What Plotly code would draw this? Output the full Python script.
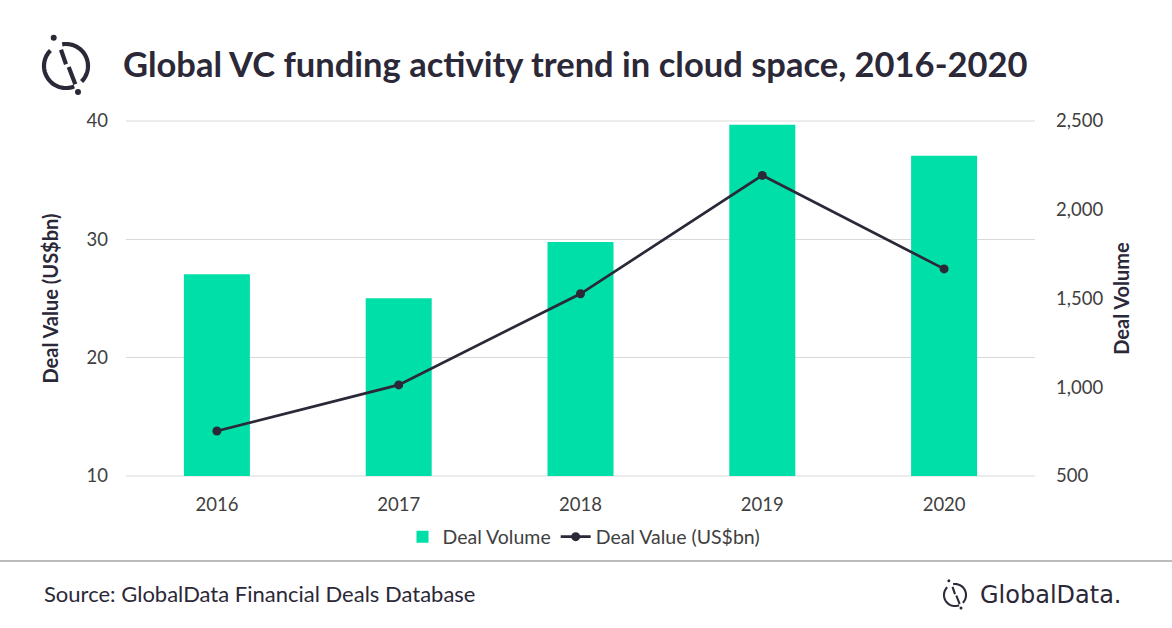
import numpy as np
import plotly.graph_objects as go

# data
years = ["2016", "2017", "2018", "2019", "2020"]
deal_volume = [1637, 1502, 1818, 2479, 2304]
deal_value = [13.8, 17.7, 25.4, 35.4, 27.5]

volume_ticks = [500, 1000, 1500, 2000, 2500]
value_ticks = [10, 20, 30, 40]

W, H = 1172, 628
L, R, T, B = 126, 137, 121, 152
PW, PH = W - L - R, H - T - B

DARK = "#2b2838"
GREEN = "#00dfa8"
GRID = "#d9d9d9"
FONT = "Lato"


def px(x):
    return (x - L) / PW


def py(y):
    return (H - B - y) / PH


def logo_shapes(cx, cy, s):
    # circle mark with two gaps, a broken slash and two dots
    out = []
    r = 22 * s
    for a0, a1 in [(135, 292), (-45, 100)]:
        ang = np.radians(np.linspace(a0, a1, 40))
        pts = [(px(cx + r * np.cos(a)), py(cy - r * np.sin(a))) for a in ang]
        path = "M " + " L ".join(f"{x:.5f},{y:.5f}" for x, y in pts)
        out.append(dict(type="path", xref="paper", yref="paper", path=path,
                        line=dict(color=DARK, width=4.2 * s)))
    for (x0, y0), (x1, y1) in [((-5, -16.3), (0, -1.7)), ((2.7, 1), (9.3, 18.3))]:
        out.append(dict(type="line", xref="paper", yref="paper",
                        x0=px(cx + x0 * s), y0=py(cy + y0 * s),
                        x1=px(cx + x1 * s), y1=py(cy + y1 * s),
                        line=dict(color=DARK, width=4.2 * s)))
    d = 3 * s
    for dx, dy in [(-12.3, -28.3), (12, 26)]:
        out.append(dict(type="circle", xref="paper", yref="paper",
                        x0=px(cx + dx * s - d), x1=px(cx + dx * s + d),
                        y0=py(cy + dy * s + d), y1=py(cy + dy * s - d),
                        fillcolor=DARK, line=dict(width=0)))
    return out


fig = go.Figure()
fig.add_trace(go.Bar(x=years, y=deal_volume, name="Deal Volume",
                     marker=dict(color=GREEN, line=dict(width=0)),
                     yaxis="y"))
fig.add_trace(go.Scatter(x=years, y=deal_value, name="Deal Value (US$bn)",
                         mode="lines+markers", yaxis="y2",
                         line=dict(color=DARK, width=2.7),
                         marker=dict(color=DARK, size=9)))

shapes = logo_shapes(66, 66, 1.0) + logo_shapes(955, 595, 0.5)
# grid lines at the top and bottom edges (plotly skips those)
for edge in (0, 1):
    shapes.append(dict(type="line", xref="paper", yref="paper", layer="below",
                       x0=0, x1=1, y0=edge, y1=edge,
                       line=dict(color=GRID, width=1)))
shapes.append(dict(type="line", xref="paper", yref="paper",
                   x0=px(0), x1=px(W), y0=py(561), y1=py(561),
                   line=dict(color="#a6a6a6", width=1.5)))

fig.update_layout(
    width=W, height=H,
    margin=dict(l=L, r=R, t=T, b=B),
    paper_bgcolor="white", plot_bgcolor="white",
    font=dict(family=FONT, color="#404040", size=18.5),
    bargap=0.637,
    title=dict(text="<b>Global VC funding activity trend in cloud space, 2016-2020</b>",
               x=123 / W, xanchor="left", y=1 - 65 / H, yanchor="middle",
               yref="container", font=dict(family=FONT, size=34.5, color=DARK)),
    xaxis=dict(type="category", showgrid=False, ticks="",
               ticklabelstandoff=15, tickfont=dict(size=18.5, color="#404040")),
    yaxis=dict(side="right", range=[500, 2500], tickvals=volume_ticks,
               tickformat=",", showgrid=False, zeroline=False,
               ticklabelstandoff=20,
               title=dict(text="<b>Deal Volume</b>", standoff=12,
                          font=dict(size=20, color=DARK))),
    yaxis2=dict(side="left", overlaying="y", range=[10, 40], tickvals=value_ticks,
                showgrid=True, gridcolor=GRID, gridwidth=1,
                zeroline=False, ticklabelstandoff=17,
                title=dict(text="<b>Deal Value (US$bn)</b>", standoff=22,
                           font=dict(size=20, color=DARK))),
    legend=dict(orientation="h", x=px(584), xanchor="center", y=py(537),
                yanchor="middle", font=dict(size=19.5, color="#404040"),
                traceorder="normal"),
    shapes=shapes,
    annotations=[
        dict(text="Source: GlobalData Financial Deals Database", xref="paper",
             yref="paper", x=px(42), y=py(593), xanchor="left", yanchor="middle",
             showarrow=False, font=dict(family=FONT, size=22, color=DARK)),
        dict(text="GlobalData.", xref="paper", yref="paper", x=px(978),
             y=py(595), xanchor="left", yanchor="middle", showarrow=False,
             font=dict(family="DejaVu Sans", size=24, color=DARK)),
    ],
)

fig.write_html("out.html", config={"displayModeBar": False},
               post_script="document.body.style.margin='0';")
